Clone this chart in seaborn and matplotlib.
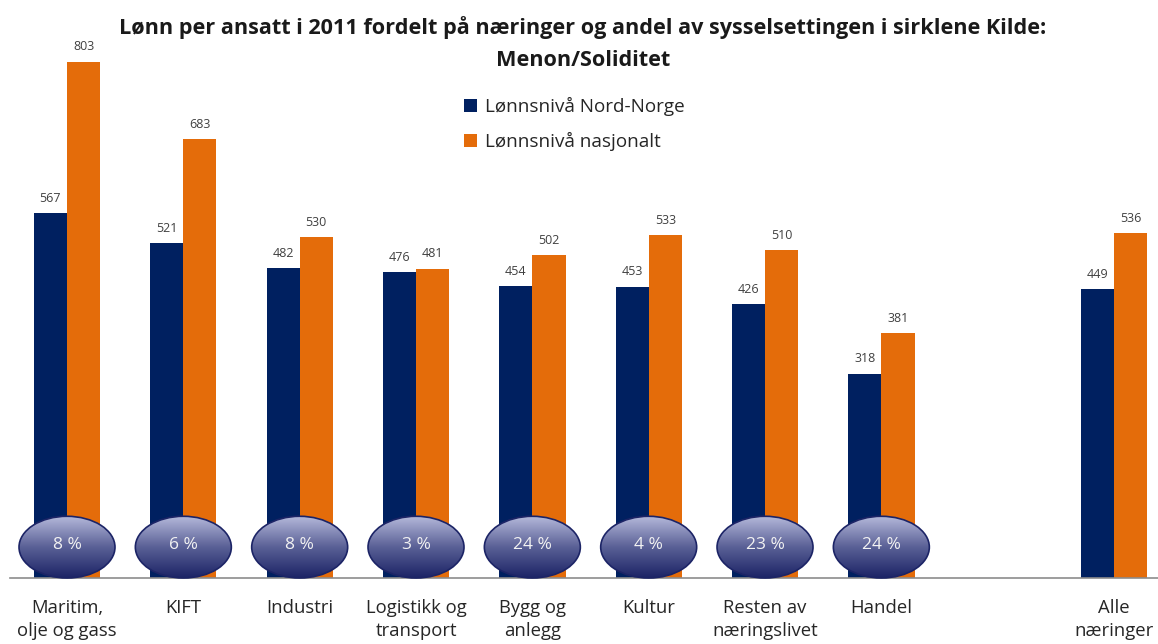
import numpy as np
import pandas as pd
import matplotlib
matplotlib.use("Agg")
import matplotlib.pyplot as plt
import seaborn as sns
from matplotlib.patches import Ellipse

# data
naeringer = ["Maritim,\nolje og gass", "KIFT", "Industri", "Logistikk og\ntransport",
             "Bygg og\nanlegg", "Kultur", "Resten av\nnæringslivet", "Handel", " ", "Alle\nnæringer"]
nord_norge = [567, 521, 482, 476, 454, 453, 426, 318, None, 449]
nasjonalt = [803, 683, 530, 481, 502, 533, 510, 381, None, 536]
andel = ["8 %", "6 %", "8 %", "3 %", "24 %", "4 %", "23 %", "24 %", None, None]
serier = ["Lønnsnivå Nord-Norge", "Lønnsnivå nasjonalt"]

rows = []
for kat, a, b in zip(naeringer, nord_norge, nasjonalt):
    if a is None:
        continue
    rows.append({"naering": kat, "serie": serier[0], "lonn": a})
    rows.append({"naering": kat, "serie": serier[1], "lonn": b})
df = pd.DataFrame(rows)

sns.set_theme(style="white")
plt.rcParams['font.family'] = ['Open Sans', 'DejaVu Sans']

fig = plt.figure(figsize=(11.58, 6.44), dpi=100)
ax = fig.add_axes([10/1158, 1-578/644, 1148/1158, 578/644])

navy = "#002060"
orange = "#E46C0A"
sns.barplot(data=df, x="naering", y="lonn", hue="serie", order=naeringer,
            hue_order=serier, palette=[navy, orange], width=0.57, saturation=1,
            linewidth=0, ax=ax, legend=True)

for cont in ax.containers:
    ax.bar_label(cont, fmt="%d", padding=6, fontsize=9, color="#404040")

ax.set_xlabel("")
ax.set_ylabel("")
ax.set_yticks([])
for s in ["top", "left", "right"]:
    ax.spines[s].set_visible(False)
ax.spines["bottom"].set_color("#8c8c8c")
ax.spines["bottom"].set_linewidth(1.2)
ax.tick_params(axis="x", length=0, pad=15, labelsize=13.3, labelcolor="#262626")
for lab in ax.get_xticklabels():
    lab.set_linespacing(1.35)

# ellipses with gradient for employment share
grad = np.linspace(0, 1, 100).reshape(-1, 1)
cmap = matplotlib.colors.LinearSegmentedColormap.from_list("ell", ["#b4b8da", "#5a6096", "#1c2466"])
ew, eh, ey = 0.825, 96.0, 48.0
for i, txt in enumerate(andel):
    if txt is None:
        continue
    e = Ellipse((i, ey), ew, eh, facecolor="none", edgecolor="#1c2466", lw=1.2, zorder=6, clip_on=False)
    ax.add_patch(e)
    im = ax.imshow(grad, extent=[i - ew/2, i + ew/2, ey - eh/2, ey + eh/2], cmap=cmap,
                   aspect="auto", origin="upper", zorder=5)
    im.set_clip_path(e)
    ax.text(i, ey + 3, txt, ha="center", va="center", color="#f2f2f2", fontsize=12.5, zorder=7)

ax.set_xlim(-0.49, 9.378)
ax.set_ylim(0, 899)

leg = ax.legend(loc="upper left", bbox_to_anchor=(437/1148, 1 - 80/578), frameon=False,
                fontsize=13.6, handlelength=0.7, handleheight=0.7, labelspacing=0.85,
                handletextpad=0.4)
for t in leg.get_texts():
    t.set_color("#262626")

fig.text(583/1158, 1 - 28/644, "Lønn per ansatt i 2011 fordelt på næringer og andel av sysselsettingen i sirklene Kilde:",
         ha="center", va="center", fontsize=15.6, fontweight="bold", color="#1a1a1a")
fig.text(583/1158, 1 - 60/644, "Menon/Soliditet", ha="center", va="center",
         fontsize=15.6, fontweight="bold", color="#1a1a1a")

fig.savefig("out.png", dpi=100)
